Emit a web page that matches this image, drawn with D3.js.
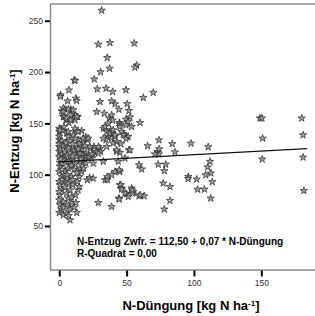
<!DOCTYPE html>
<html>
<head>
<meta charset="utf-8">
<script src="https://cdn.jsdelivr.net/npm/d3@7"></script>
<style>
  body { margin: 0; background: #fff; }
  svg { font-family: "Liberation Sans", Arial, sans-serif; }
</style>
</head>
<body>
<div id="chart"></div>
<script>
var WIDTH = 315
var HEIGHT = 316

// N-Düngung (x) and N-Entzug Zwfr. (y)
var duengung = [
  31.5, 29, 37.6, 35.6, 30.7, 37.4, 11.1, 26, 55.7, 57.5, 56.2, 49.5, 69.8, 62.4, 41.4, 50.5,
  44.3, 51.7, 52.5, 49.5, 44.6, 60, 45, 51, 53.7, 47.5, 50, 42.6, 45.8, 51.7, 65.6, 74,
  83.9, 97.8, 110.6, 73, 74, 85.9, 45, 43.8, 48.8, 59.2, 61.2, 73.5, 79, 78, 41.4, 45,
  95.8, 95.6, 102, 108.7, 112.6, 110.2, 111.9, 113.6, 102.7, 107.7, 112.4, 77.2, 82.2, 82.2, 78, 45,
  46.3, 53.7, 54.9, 50, 51.2, 44.3, 59.2, 63.1, 149, 150.5, 180, 151, 181, 150.7, 181, 181.6,
  71, 74.2,
  11.7, 1, 0.8, 7.2, 28.2, 34.7, 39.6, 6.2, 12.4, 12.9, 30.2, 38.9, 27.8, 4.2, 8.5, 1.8,
  10, 13.7, 11.2, 3, 5, 7.2, 11.7, 0, 0, 2.5, 5.5, 12.4, 16.6, 6.7, 0, 14,
  19.8, 20.8, 17.8, 25.8, 30.2, 23.3, 33.4, 37.1, 38.9, 39.6, 32.7, 35.2, 38.2, 39.6, 36.4, 38.9,
  41.4, 34.7, 40, 35.2, 45, 49.5, 46.3, 48, 51.2, 49.5, 42.6, 52.5, 27.8, 30.7, 19.8, 16, 23.8,
  3, 6.7, 3, 10.4, 8.5, 3.5, 5.5, 12.9, 8.5, 0.5, 3.5, 6.7, 11.7, 14, 10.4, 36.4,
  34, 37.6, 40, 32.7, 41.4, 29, 22.8, 17.8, 21.5, 0, 0, 0, 5.5, 9.2, 4.2, 12.9,
  16.6, 20, 25.2, 42.6, 32.7, 25.2, 17.8, 0.5,
  8, 3, 0, 5.5, 1.8, 13, 8, 9.2, 12.4, 5.5, 0.6, 3, 0, 6.7, 0.5, 5.5,
  1.8, 8, 0, 4.2, 0.5, 7.2, 10, 3.7, 0, 14, 14.8, 13.4, 1.8, 5.5, 9.2, 0,
  4.2, 6.7, 0.5, 1.8, 5.5, 3, 0, 8.5, 11.7, 13, 15.4, 14.8, 16.6, 19.8, 21.5, 22.3,
  24.2, 29, 15.4, 29, 38.9, 20.8, 22.5, 25.2, 34, 35.7, 35.6, 38.9, 44.5, 45.6, 46.3, 48.8,
  44.5, 54.5, 60, 54, 15.4,
  2, 4, 6, 8, 10, 1, 3, 7, 11, 13, 0, 2, 5, 8, 10, 12,
  15, 17, 19, 1, 7, 9, 11, 13, 2, 18, 6, 10, 2, 12, 9, 3,
  11, 7, 16, 14
]
var entzug = [
  260, 227, 228.5, 214, 200, 203.5, 192, 193, 228, 206.5, 204.6, 182.6, 180, 175, 168.8, 169,
  163.6, 162.3, 156, 154, 150.6, 150.6, 149, 151.5, 146.7, 140, 137, 132, 130, 124, 128, 133.7,
  130, 130.5, 127, 122.4, 120, 122, 121.4, 112.8, 116, 109.4, 105.4, 110, 110, 103.7, 102.9, 102.9,
  98, 96, 95.5, 99.7, 101.4, 107.3, 112.8, 93, 85.7, 85.7, 77, 91.6, 88.3, 74.7, 66.3, 90,
  86.9, 86.9, 83.4, 81.2, 78.5, 77, 79.2, 79.2, 155, 155, 155, 135.4, 138.6, 115, 116.9, 84.4,
  120, 125,
  191.5, 177.6, 176, 182.4, 183.4, 184, 180.8, 171.7, 174.3, 172, 171, 171.7, 161.3, 163.6, 163.6, 162,
  159.7, 156.4, 155.8, 156.4, 153.2, 150.6, 153.2, 145, 141.8, 143, 140.3, 142.7, 142.7, 137.2, 137.2, 134,
  136.6, 134, 131, 127.2, 125.6, 125.6, 159.7, 155, 158, 153, 145, 141.8, 143.5, 140.3, 137, 135.5,
  137, 133.8, 130.7, 127.2, 146.7, 148.3, 141.8, 138.6, 137, 135, 122.5, 124, 122.5, 122.5, 121, 121, 118,
  164.8, 164, 161.3, 163, 158.2, 156.4, 155, 156.4, 153.2, 143.5, 146.7, 141.8, 145, 141.8, 138.6, 150,
  146.7, 140.3, 143.5, 135.4, 138.6, 127.2, 127.2, 135.4, 135.4, 134, 127.2, 122.5, 127.2, 124, 117.5, 121,
  119.2, 117.5, 119.2, 124, 112.8, 111, 112, 112,
  55.8, 60.7, 63, 62.4, 65.8, 63, 66.3, 72.2, 72.7, 70.5, 70.5, 73.7, 75.3, 77, 80.2, 81.8,
  85, 85, 83.4, 87.7, 90, 91.6, 90, 93.1, 93.1, 85, 88.3, 93.1, 98, 96.4, 98, 102.9,
  102.9, 106.3, 108, 111, 111.7, 116, 117.5, 114.3, 110.4, 117.5, 106.3, 98, 102.9, 111, 116, 117.5,
  120, 120.8, 120.8, 72.7, 68.8, 94.8, 97, 96.4, 94.8, 95, 98, 99.7, 104.5, 90, 85.7, 81.8,
  76, 81.8, 80.2, 85, 112.8,
  120, 122, 119, 121, 118, 125, 128, 126, 124, 127, 130, 133, 131, 133, 130, 135,
  130, 125, 128, 115, 113, 109, 105, 102, 105, 106, 100, 95, 95, 80, 78, 68,
  68, 60, 115, 125
]

// SPSS linear fit shown in the chart
var intercept = 112.5
var slope = 0.07
var fitRange = [0, 184]

var yTicks = [50, 100, 150, 200, 250]
var xTicks = [0, 50, 100, 150]

var points = duengung.map(function(d, i) { return {x: d, y: entzug[i]} })

// plot frame in pixels
var frame = {left: 50.5, top: 4, right: 316, bottom: 270}

var xScale = d3.scaleLinear()
  .domain([-6.5, 190.6])
  .range([frame.left, frame.right])

var yScale = d3.scaleLinear()
  .domain([7.1, 266.3])
  .range([frame.bottom, frame.top])

var svg = d3.select('#chart')
  .append('svg')
  .attr('width', WIDTH)
  .attr('height', HEIGHT)

// frame: left, top, bottom (right edge runs off the picture)
svg.append('path')
  .attr('d', 'M' + frame.right + ',' + frame.top + 'H' + frame.left + 'V' + frame.bottom + 'H' + frame.right)
  .attr('fill', 'none')
  .attr('stroke', '#8a8a8a')
  .attr('stroke-width', 1.5)

/* y axis */
var yAxis = svg.append('g')
  .attr('transform', 'translate(' + (frame.left - 0.5) + ',0)')
  .call(d3.axisLeft(yScale).tickValues(yTicks).tickSize(5).tickPadding(2))
yAxis.select('.domain').remove()
yAxis.selectAll('.tick line').attr('stroke', '#000').attr('stroke-width', 2)
yAxis.selectAll('.tick text')
  .attr('fill', '#333')
  .style('font-size', '8.5px')
  .style('font-family', '"Liberation Sans", Arial, sans-serif')

/* x axis */
var xAxis = svg.append('g')
  .attr('transform', 'translate(0,' + (frame.bottom + 0.5) + ')')
  .call(d3.axisBottom(xScale).tickValues(xTicks).tickSize(6).tickPadding(3))
xAxis.select('.domain').remove()
xAxis.selectAll('.tick line').attr('stroke', '#000').attr('stroke-width', 2)
xAxis.selectAll('.tick text')
  .attr('fill', '#333')
  .style('font-size', '8.5px')
  .style('font-family', '"Liberation Sans", Arial, sans-serif')

// points (small flower-like star, as SPSS draws them)
var star = d3.symbol().type(d3.symbolStar).size(17)
svg.append('g')
  .selectAll('path')
  .data(points)
  .enter()
  .append('path')
  .attr('d', star)
  .attr('transform', function(d) { return 'translate(' + xScale(d.x) + ',' + yScale(d.y) + ')' })
  .attr('fill', '#a0a0a0')
  .attr('stroke', '#262626')
  .attr('stroke-width', 0.7)
  .attr('stroke-linejoin', 'round')

// fit line
var line = d3.line()
  .x(function(d) { return xScale(d) })
  .y(function(d) { return yScale(intercept + slope * d) })
svg.append('path')
  .datum(fitRange)
  .attr('d', line)
  .attr('fill', 'none')
  .attr('stroke', '#111')
  .attr('stroke-width', 1.2)

// equation
var eq = svg.append('g')
  .style('font-size', '10px')
  .style('font-weight', 'bold')
eq.append('text').attr('x', 77).attr('y', 245).text('N-Entzug Zwfr. = 112,50 + 0,07 * N-Düngung')
eq.append('text').attr('x', 77).attr('y', 257).text('R-Quadrat = 0,00')

// axis titles
function addTitle(sel, label) {
  sel.append('tspan').text(label + ' [kg N ha')
  sel.append('tspan').attr('baseline-shift', 'super').style('font-size', '8px').text('-1')
  sel.append('tspan').text(']')
}
var xTitle = svg.append('text')
  .attr('x', 191)
  .attr('y', 310)
  .attr('text-anchor', 'middle')
  .style('font-size', '13px')
  .style('font-weight', 'bold')
addTitle(xTitle, 'N-Düngung')

var yTitle = svg.append('text')
  .attr('transform', 'translate(18.5,131) rotate(-90)')
  .attr('text-anchor', 'middle')
  .style('font-size', '13px')
  .style('font-weight', 'bold')
addTitle(yTitle, 'N-Entzug')
</script>
</body>
</html>
